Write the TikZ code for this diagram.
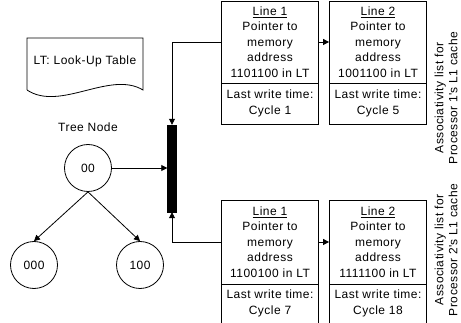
\documentclass[tikz,border=0pt]{standalone}
\usepackage{fontspec}
\setmainfont[LetterSpace=4]{Liberation Sans}
\usetikzlibrary{arrows.meta}
\tikzset{
  txt/.style={font=\fontsize{12}{15.5}\selectfont},
  cell/.style={draw, line width=0.8pt, minimum width=97pt, inner sep=0pt, align=center, txt},
  tnode/.style={draw, circle, line width=0.8pt, minimum size=47pt, inner sep=0pt, txt},
  arr/.style={-{Triangle[length=6pt,width=6pt]}, line width=0.8pt},
  bar/.style={fill=black, draw=black, minimum width=9pt, minimum height=87pt, inner sep=0pt},
  lbl/.style={txt, align=center, inner sep=0pt},
  side/.style={font=\fontsize{12}{14}\selectfont, align=center, inner sep=0pt, rotate=90}
}
\begin{document}
\begin{tikzpicture}[x=1pt,y=-1pt]
\useasboundingbox (0,0) rectangle (461,323);
\clip (0,0) rectangle (461,323);
% document shape
\draw[line width=0.8pt] (27,90) -- (27,38) -- (143,38) -- (143,90)
  .. controls (110,70) and (60,112) .. (27,90);
\node[lbl] (lt) at (85,61) {LT: Look-Up Table};
% tree
\node[lbl] (tree) at (88,127) {Tree Node};
\node[tnode] (n00) at (88,168) {00};
\node[tnode] (n000) at (34,265) {000};
\node[tnode] (n100) at (140,265) {100};
\draw[arr] (n00.south) -- (n000.north);
\draw[arr] (n00.south) -- (n100.north);
% bar
\node[bar] (bar) at (172,168.5) {};
\draw[arr] (n00.east) -- (n00.east -| bar.west);
% top list
\node[cell, minimum height=82pt] (t1a) at (270,42) {\underline{Line 1}\\Pointer to\\memory\\address\\1101100 in LT};
\node[cell, minimum height=41pt] (t1b) at (270,103.5) {Last write time:\\Cycle 1};
\node[cell, minimum height=82pt] (t2a) at (378,42) {\underline{Line 2}\\Pointer to\\memory\\address\\1001100 in LT};
\node[cell, minimum height=41pt] (t2b) at (378,103.5) {Last write time:\\Cycle 5};
% bottom list
\node[cell, minimum height=84pt] (b1a) at (270,242) {\underline{Line 1}\\Pointer to\\memory\\address\\1100100 in LT};
\node[cell, minimum height=39pt] (b1b) at (270,303.5) {Last write time:\\Cycle 7};
\node[cell, minimum height=84pt] (b2a) at (378,242) {\underline{Line 2}\\Pointer to\\memory\\address\\1111100 in LT};
\node[cell, minimum height=39pt] (b2b) at (378,303.5) {Last write time:\\Cycle 18};
% connectors
\draw[arr] (t1a.east) -- (t2a.west);
\draw[arr] (b1a.east) -- (b2a.west);
\draw[arr] (t1a.west) -| (bar.north);
\draw[arr] (b1a.west) -| (bar.south);
% side labels
\node[side] (as1) at (446,98) {Associativity list for\\Processor 1\textquotesingle s L1 cache};
\node[side] (as2) at (446,250) {Associativity list for\\Processor 2\textquotesingle s L1 cache};
\end{tikzpicture}
\end{document}
